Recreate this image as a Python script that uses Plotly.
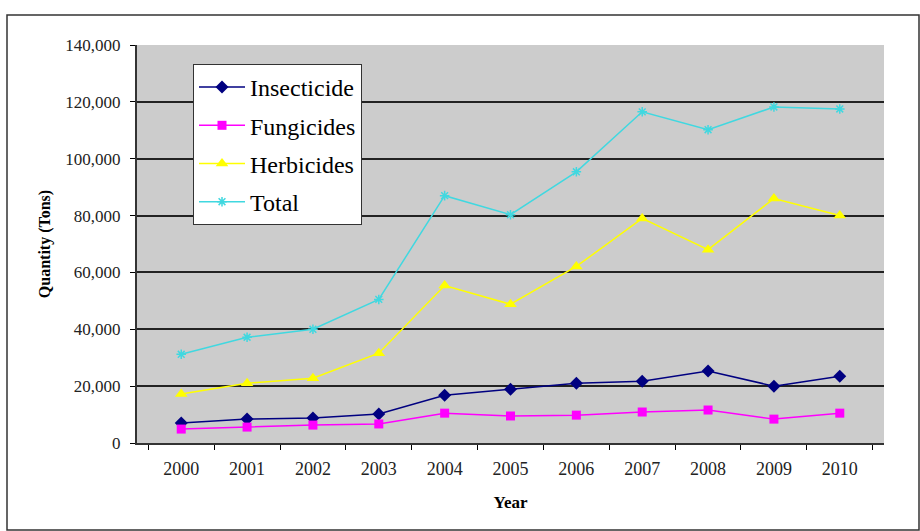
import plotly.graph_objects as go

years = ["2000", "2001", "2002", "2003", "2004", "2005", "2006", "2007", "2008", "2009", "2010"]
insecticide = [7000, 8400, 8800, 10200, 16800, 18900, 21000, 21700, 25300, 20000, 23500]
fungicides = [4900, 5600, 6300, 6700, 10500, 9500, 9800, 10900, 11600, 8400, 10500]
herbicides = [17200, 21000, 22800, 31600, 55400, 48800, 62100, 79000, 68000, 86000, 80000]
total = [31200, 37200, 40000, 50500, 87000, 80300, 95400, 116500, 110200, 118200, 117500]
y_ticks = [0, 20000, 40000, 60000, 80000, 100000, 120000, 140000]

FONT = "Liberation Serif, Times New Roman, serif"

# plot area in pixels (for the outer frame shape)
L, R, T, B = 137, 884, 45, 443
PW, PH = R - L, B - T

fig = go.Figure()
fig.add_trace(go.Scatter(x=years, y=insecticide, name="Insecticide", mode="lines+markers",
                         legendgroup="a",
                         line=dict(color="#000080", width=1.5),
                         marker=dict(symbol="diamond", size=10, color="#000080")))
fig.add_trace(go.Scatter(x=years, y=fungicides, name="Fungicides", mode="lines+markers",
                         legendgroup="b",
                         line=dict(color="#FF00FF", width=1.5),
                         marker=dict(symbol="square", size=9, color="#FF00FF")))
fig.add_trace(go.Scatter(x=years, y=herbicides, name="Herbicides", mode="lines+markers",
                         legendgroup="c",
                         line=dict(color="#FFFF00", width=1.5),
                         marker=dict(symbol="triangle-up", size=11, color="#FFFF00")))
fig.add_trace(go.Scatter(x=years, y=total, name="Total", mode="lines+markers",
                         legendgroup="d",
                         line=dict(color="#40D8E0", width=1.5),
                         marker=dict(symbol="asterisk-open", size=8, color="#40D8E0",
                                     line=dict(color="#40D8E0", width=1.5))))

fig.update_layout(
    width=920, height=531,
    margin=dict(l=L, r=920 - R, t=T, b=531 - B),
    paper_bgcolor="white",
    plot_bgcolor="#cccccc",
    font=dict(family=FONT, size=16, color="black"),
    showlegend=True,
    legend=dict(x=(193 - L) / PW, y=(B - 64) / PH, xanchor="left", yanchor="top",
                bgcolor="white", bordercolor="#333333", borderwidth=1,
                font=dict(family=FONT, size=24, color="black"),
                tracegroupgap=4, itemwidth=46),
    xaxis=dict(
        type="category", tickson="boundaries", ticks="outside", ticklen=5,
        tickcolor="black", showline=True, linecolor="#333333", linewidth=2,
        showgrid=False, tickfont=dict(family=FONT, size=18, color="#222222"),
        ticklabelstandoff=8,
        title=dict(text="<b>Year</b>", font=dict(family=FONT, size=17), standoff=19),
    ),
    yaxis=dict(
        range=[0, 140000], tickvals=y_ticks, tickformat=",d", ticks="outside", ticklen=5,
        tickcolor="black", showline=True, linecolor="#333333", linewidth=2,
        showgrid=True, gridcolor="#222222", gridwidth=1.5, zeroline=False,
        tickfont=dict(family=FONT, size=17, color="#222222"),
        ticklabelstandoff=6,
        title=dict(text="<b>Quantity (Tons)</b>", font=dict(family=FONT, size=16), standoff=11),
    ),
    shapes=[dict(type="rect", xref="paper", yref="paper",
                 x0=(7 - L) / PW, x1=(919 - L) / PW,
                 y0=(B - 530) / PH, y1=(B - 15) / PH,
                 line=dict(color="#333333", width=1.5), fillcolor="rgba(0,0,0,0)", layer="below")],
)

fig.write_html("out.html")
